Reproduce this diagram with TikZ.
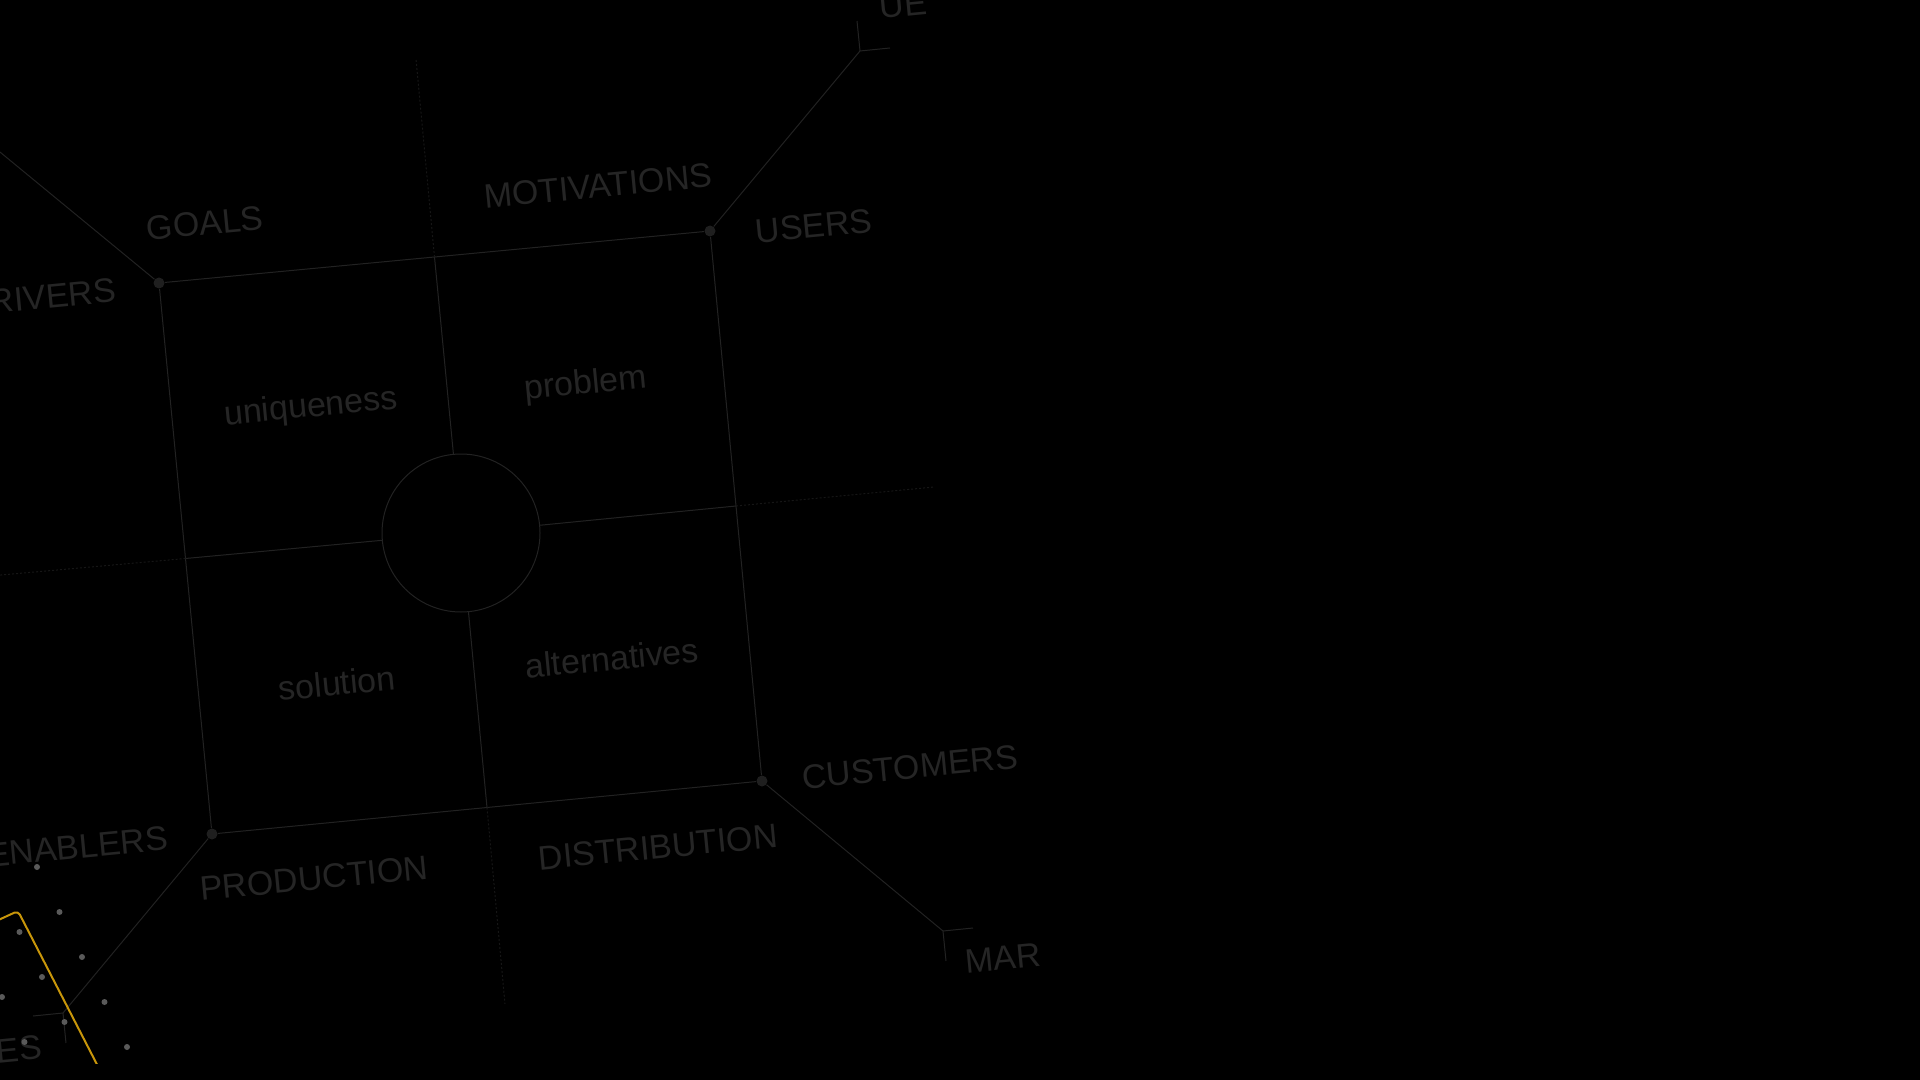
\documentclass[tikz,border=0pt]{standalone}
\usepackage{fontspec}
\setmainfont{Liberation Sans}
\definecolor{bgblack}{HTML}{000000}
\definecolor{linegrey}{HTML}{222222}
\definecolor{dimgrey}{HTML}{161616}
\definecolor{textgrey}{HTML}{252525}
\definecolor{cornergrey}{HTML}{1F1F1F}
\definecolor{fieldgrey}{HTML}{5A5A5A}
\definecolor{cardyellow}{HTML}{C8960A}

\begin{document}
\begin{tikzpicture}[x=0.5pt, y=-0.5pt,
		corner_style/.style={circle,fill=cornergrey,inner sep=0pt,minimum size=5.5pt},
		ring_style/.style={circle,draw=linegrey,line width=0.5pt,inner sep=0pt,minimum size=79pt},
		word_style/.style={text=textgrey,font=\fontsize{17pt}{20pt}\selectfont,rotate=5.5,inner sep=0pt},
		edge_style/.style={draw=linegrey,line width=0.5pt},
		ext_style/.style={draw=dimgrey,line width=0.5pt,dash pattern=on 1pt off 1pt},
		card_style/.style={draw=cardyellow,line width=1pt,rounded corners=2pt}]
		
		\fill[bgblack] (0,0) rectangle (1920,1080);
		\useasboundingbox (0,0) rectangle (1920,1080);
		\clip (0,0) rectangle (1920,1080);
		
		% square corners and centre
		\node[corner_style] (g) at (159,283)  {};
		\node[corner_style] (u) at (710,231)  {};
		\node[corner_style] (c) at (762,781)  {};
		\node[corner_style] (e) at (212,834)  {};
		\node[ring_style] (o) at (461,533)  {};
		
		% edge midpoints and far ends
		\coordinate (mt) at (434.5,257);
		\coordinate (mr) at (736,506);
		\coordinate (mb) at (487,807.5);
		\coordinate (ml) at (185.5,558.5);
		\coordinate (ft) at (416,59);
		\coordinate (fr) at (934,487);
		\coordinate (fb) at (505,1004);
		\coordinate (fl) at (-10,576);
		
		% diagonal ends and corner marks
		\coordinate (dg) at (-11,143);
		\coordinate (bu) at (860,51);
		\coordinate (bu1) at (890,48);
		\coordinate (bu2) at (857,21);
		\coordinate (bc) at (943,931);
		\coordinate (bc1) at (973,928);
		\coordinate (bc2) at (946,961);
		\coordinate (be) at (63,1013);
		\coordinate (be1) at (33,1016);
		\coordinate (be2) at (66,1043);
		
		\draw[edge_style]  (g) edge (u);
		\draw[edge_style]  (u) edge (c);
		\draw[edge_style]  (c) edge (e);
		\draw[edge_style]  (e) edge (g);
		
		\draw[edge_style]  (o) edge (mt);
		\draw[edge_style]  (o) edge (mr);
		\draw[edge_style]  (o) edge (mb);
		\draw[edge_style]  (o) edge (ml);
		\draw[ext_style]  (mt) edge (ft);
		\draw[ext_style]  (mr) edge (fr);
		\draw[ext_style]  (mb) edge (fb);
		\draw[ext_style]  (ml) edge (fl);
		
		\draw[edge_style]  (g) edge (dg);
		\draw[edge_style]  (u) edge (bu);
		\draw[edge_style]  (c) edge (bc);
		\draw[edge_style]  (e) edge (be);
		\draw[edge_style]  (bu1) -- (bu) -- (bu2);
		\draw[edge_style]  (bc1) -- (bc) -- (bc2);
		\draw[edge_style]  (be1) -- (be) -- (be2);
		
		% labels
		\node[word_style] (goals) at (205,223)  {GOALS};
		\node[word_style] (motivations) at (598,186)  {MOTIVATIONS};
		\node[word_style] (users) at (814,226)  {USERS};
		\node[word_style,anchor=east] (drivers) at (116,290)  {RIVERS};
		\node[word_style] (customers) at (910,767)  {CUSTOMERS};
		\node[word_style,anchor=east] (enablers) at (168,838)  {ENABLERS};
		\node[word_style] (production) at (314,878)  {PRODUCTION};
		\node[word_style] (distribution) at (658,847)  {DISTRIBUTION};
		\node[word_style] (uniqueness) at (311,408)  {uniqueness};
		\node[word_style] (problem) at (586,385)  {problem};
		\node[word_style] (solution) at (337,683)  {solution};
		\node[word_style] (alternatives) at (612,658)  {alternatives};
		\node[word_style] (value) at (903,5)  {UE};
		\node[word_style] (market) at (1003,958)  {MAR};
		\node[word_style,anchor=east] (sales) at (42,1047)  {ES};
		
		% card and dot field, cut at the lower band
		\begin{scope}
		\clip (0,0) rectangle (1920,1063);
		\foreach \i in {0,...,4}
			\foreach \j in {0,...,3}
				\fill[fieldgrey] (37+22.5*\i-40*\j, 867+45*\i+20*\j) circle (1.5pt);
		\draw[card_style] (-6,922) -- (18,911) -- (105,1080);
		\end{scope}
		
		\end{tikzpicture}
\end{document}
